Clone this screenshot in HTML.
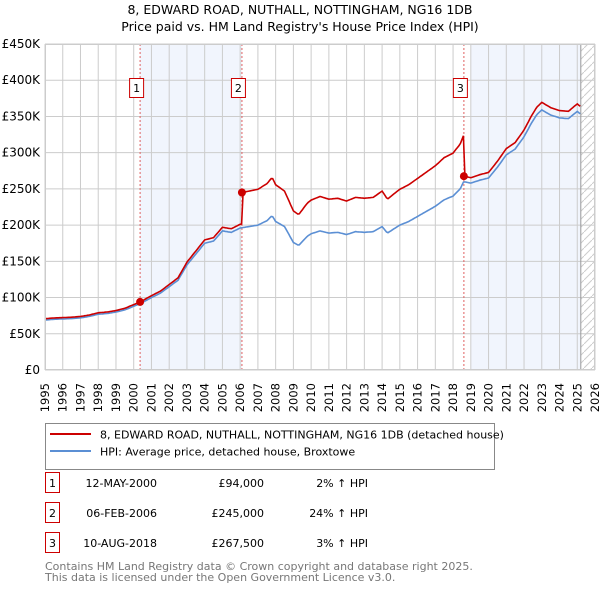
<!DOCTYPE html>
<html><head><meta charset="utf-8"><style>
body{margin:0;background:#fff;font-family:"Liberation Sans","DejaVu Sans",sans-serif}
svg{display:block}
text{font-family:"DejaVu Sans","Liberation Sans",sans-serif}
</style></head><body>
<svg id="chart" width="600" height="590" viewBox="0 0 600 590">
<text x="300" y="14" text-anchor="middle" font-size="12.5" fill="#000">8, EDWARD ROAD, NUTHALL, NOTTINGHAM, NG16 1DB</text>
<text x="300" y="31" text-anchor="middle" font-size="12.5" fill="#000">Price paid vs. HM Land Registry's House Price Index (HPI)</text>
<g id="plot"></g>
<g>
<rect x="45.5" y="423.5" width="449" height="46" fill="#fff" stroke="#888"/>
<line x1="50" y1="434" x2="91" y2="434" stroke="#cc0000" stroke-width="2"/>
<text x="100" y="438.5" font-size="11">8, EDWARD ROAD, NUTHALL, NOTTINGHAM, NG16 1DB (detached house)</text>
<line x1="50" y1="451" x2="91" y2="451" stroke="#5b8fd4" stroke-width="2"/>
<text x="100" y="455.5" font-size="11">HPI: Average price, detached house, Broxtowe</text>
</g>
<g id="table" font-size="11"></g>
<text x="45" y="570" font-size="11" fill="#777">Contains HM Land Registry data © Crown copyright and database right 2025.</text>
<text x="45" y="581" font-size="11" fill="#777">This data is licensed under the Open Government Licence v3.0.</text>
</svg>
<script>
const hpiYears=[1995,1995.5,1996,1996.5,1997,1997.5,1998,1998.5,1999,1999.5,2000,2000.4,2001,2001.5,2002,2002.5,2003,2003.5,2004,2004.5,2005,2005.5,2006,2006.5,2007,2007.5,2007.8,2008,2008.5,2009,2009.3,2009.8,2010,2010.5,2011,2011.5,2012,2012.5,2013,2013.5,2014,2014.3,2014.8,2015,2015.5,2016,2016.5,2017,2017.5,2018,2018.4,2018.6,2019,2019.5,2020,2020.5,2021,2021.5,2022,2022.4,2022.7,2023,2023.5,2024,2024.5,2025,2025.2];
const hpiValues=[69000,70000,70500,71000,72000,74000,77000,78000,80000,83000,88000,92000,100000,106000,115000,124000,145000,160000,175000,178000,192000,190000,196000,198000,200000,206000,213000,205000,198000,176000,172000,185000,188000,192000,189000,190000,187000,191000,190000,191000,198000,189000,197000,200000,205000,212000,219000,226000,235000,240000,250000,260000,258000,262000,265000,280000,297000,305000,322000,340000,352000,359000,352000,348000,347000,357000,353000];
const saleYears=[2000.36,2006.1,2018.61];
const salePrices=[94000,245000,267500];
const saleLabels=["1","2","3"];
const saleDates=["12-MAY-2000","06-FEB-2006","10-AUG-2018"];
const saleDiffs=["2% \u2191 HPI","24% \u2191 HPI","3% \u2191 HPI"];
const yTicks=[0,50000,100000,150000,200000,250000,300000,350000,400000,450000];
const yTickLabels=["£0","£50K","£100K","£150K","£200K","£250K","£300K","£350K","£400K","£450K"];
const xTicks=[1995,1996,1997,1998,1999,2000,2001,2002,2003,2004,2005,2006,2007,2008,2009,2010,2011,2012,2013,2014,2015,2016,2017,2018,2019,2020,2021,2022,2023,2024,2025,2026];

const L=45,R=595,T=44,B=370,X0=1995,X1=2026,YMAX=450000;
const xs=y=>L+(y-X0)/(X1-X0)*(R-L);
const ys=v=>B-v/YMAX*(B-T);
const NS="http://www.w3.org/2000/svg";
const plot=document.getElementById('plot');
function mk(tag,attrs,parent){const e=document.createElementNS(NS,tag);for(const k in attrs)e.setAttribute(k,attrs[k]);(parent||plot).appendChild(e);return e;}
function hpiAt(t){for(let i=1;i<hpiYears.length;i++){if(t<=hpiYears[i]){const f=(t-hpiYears[i-1])/(hpiYears[i]-hpiYears[i-1]);return hpiValues[i-1]+f*(hpiValues[i]-hpiValues[i-1]);}}return hpiValues[hpiValues.length-1];}

let s1=mk('rect',{x:xs(saleYears[0]),y:T,width:xs(saleYears[1])-xs(saleYears[0]),height:B-T,fill:'#eef3fc',opacity:0.8});


let s2=mk('rect',{x:xs(2019),y:T,width:xs(2025.2)-xs(2019),height:B-T,fill:'#eef3fc',opacity:0.8});


const defs=mk('defs',{});
const pat=mk('pattern',{id:'hatch',width:8,height:8,patternUnits:'userSpaceOnUse'},defs);
mk('path',{d:'M0,8 L8,0',stroke:'#ccc','stroke-width':1},pat);
let hz=mk('rect',{x:xs(2025.2),y:T,width:R-xs(2025.2),height:B-T,fill:'url(#hatch)'});


yTicks.forEach((v,i)=>{
 mk('line',{x1:L,x2:R,y1:ys(v),y2:ys(v),stroke:'#ccc','stroke-width':1});
 const t=mk('text',{x:L-5,y:ys(v)+4,'text-anchor':'end','font-size':12});
 t.textContent=yTickLabels[i];
 
 
});
xTicks.forEach(v=>{
 mk('line',{x1:xs(v),x2:xs(v),y1:T,y2:B,stroke:'#ccc','stroke-width':1});
 const t=mk('text',{transform:'translate('+(xs(v)+4)+',383) rotate(-90)','text-anchor':'end','font-size':11.5});
 t.textContent=v;
 
 
});
mk('line',{x1:xs(2025.2),x2:xs(2025.2),y1:T,y2:B,stroke:'#999','stroke-width':1});
saleYears.forEach((y,i)=>{
 mk('line',{x1:xs(y),x2:xs(y),y1:T,y2:B,stroke:'#e06060','stroke-width':1,'stroke-dasharray':'2,2'});
 const g=mk('g',{});
 
 
 mk('rect',{x:xs(y)-10.5,y:78.5,width:14,height:19,fill:'#fff',stroke:'#cc0000'},g);
 const t=mk('text',{x:xs(y)-3.5,y:92,'text-anchor':'middle','font-size':11},g);
 t.textContent=saleLabels[i];
});
let hp='',rp='';
const tmax=hpiYears[hpiYears.length-1];
for(let t=X0;t<=tmax+1e-9;t+=1/12){
 const h=hpiAt(t);
 let k=0;for(let i=0;i<saleYears.length;i++)if(t>=saleYears[i])k=i;
 const r=h*salePrices[k]/hpiAt(saleYears[k]);
 hp+=(hp?'L':'M')+xs(t).toFixed(1)+','+ys(h).toFixed(1);
 rp+=(rp?'L':'M')+xs(t).toFixed(1)+','+ys(r).toFixed(1);
}
const hl=mk('path',{d:hp,fill:'none',stroke:'#5b8fd4','stroke-width':1.6});


const rl=mk('path',{d:rp,fill:'none',stroke:'#cc0000','stroke-width':1.6});


saleYears.forEach((y,i)=>{
 const c=mk('circle',{cx:xs(y),cy:ys(salePrices[i]),r:4,fill:'#cc0000'});
 
 
});
mk('rect',{x:L+0.5,y:T+0.5,width:R-L-1,height:B-T-1,fill:'none',stroke:'#ccc'});
const tb=document.getElementById('table');
saleLabels.forEach((lab,i)=>{
 const cy=483+i*30;
 const g=mk('g',{},tb);
 
 
 mk('rect',{x:45.5,y:cy-10.5,width:14,height:20,fill:'#fff',stroke:'#cc0000'},g);
 let t=mk('text',{x:52.5,y:cy+4,'text-anchor':'middle'},g);t.textContent=lab;
 t=mk('text',{x:157,y:cy+4,'text-anchor':'end'},g);t.textContent=saleDates[i];
 t=mk('text',{x:264,y:cy+4,'text-anchor':'end'},g);t.textContent='£'+salePrices[i].toLocaleString('en-GB');
 t=mk('text',{x:368,y:cy+4,'text-anchor':'end'},g);t.textContent=saleDiffs[i];
});
</script>
</body></html>
